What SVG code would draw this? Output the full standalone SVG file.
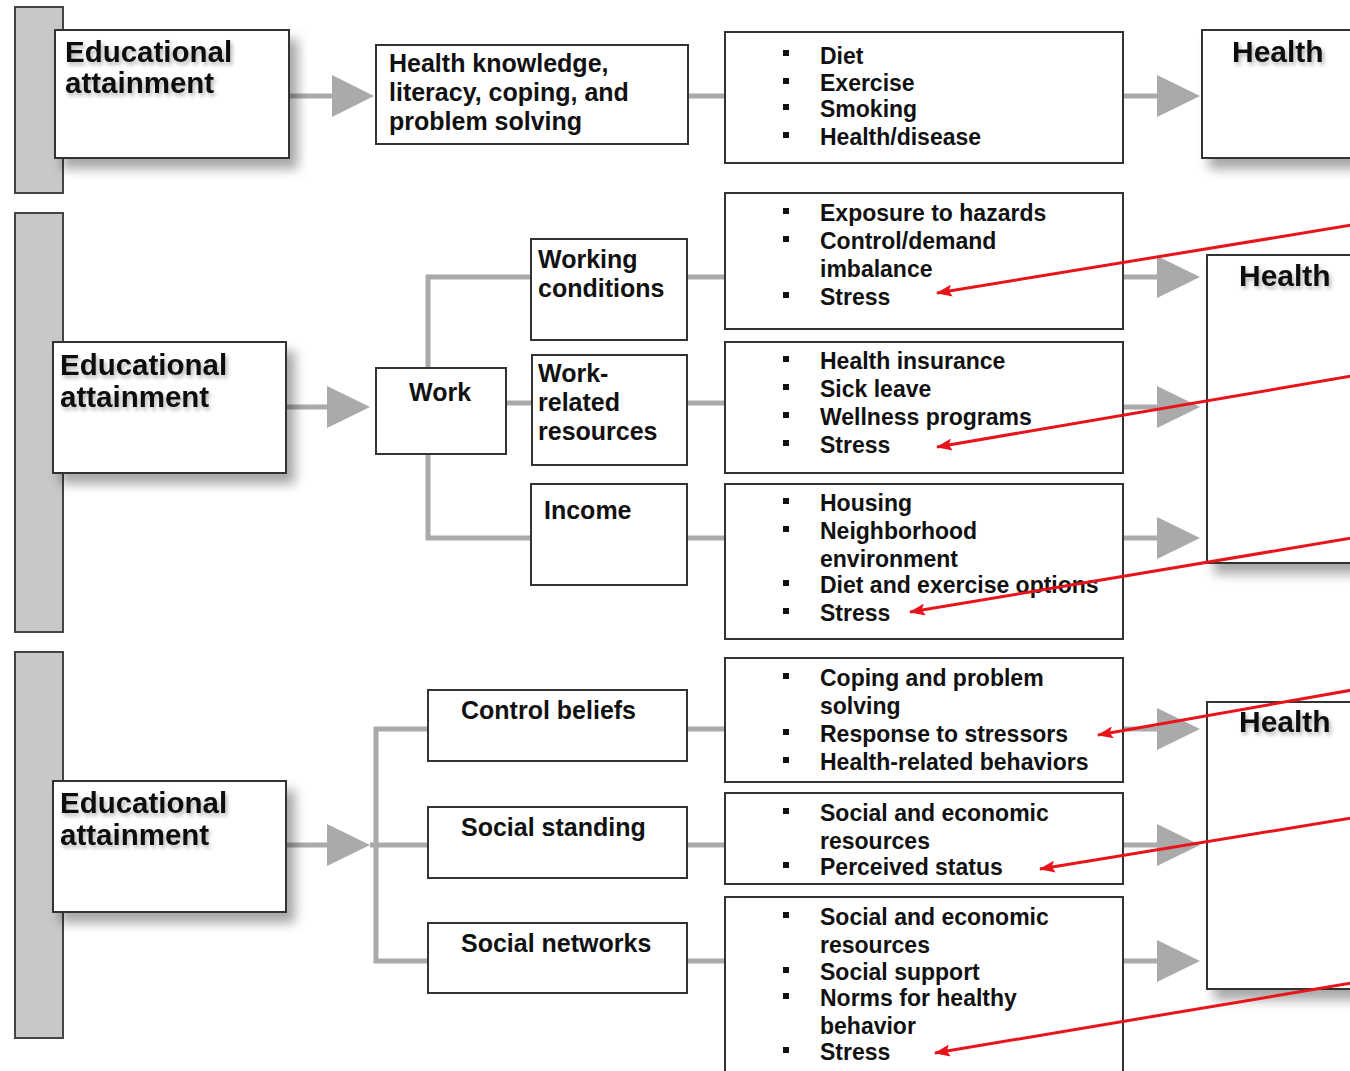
<svg xmlns="http://www.w3.org/2000/svg" width="1350" height="1071" viewBox="0 0 1350 1071">
<defs>
<filter id="sh" x="-20%" y="-20%" width="150%" height="150%">
<feGaussianBlur in="SourceAlpha" stdDeviation="6"/>
<feOffset dx="8" dy="10" result="b"/>
<feComponentTransfer><feFuncA type="linear" slope="0.35"/></feComponentTransfer>
<feMerge><feMergeNode/><feMergeNode in="SourceGraphic"/></feMerge>
</filter>
<filter id="ts" x="-10%" y="-30%" width="130%" height="180%">
<feGaussianBlur in="SourceAlpha" stdDeviation="2"/>
<feOffset dx="2" dy="3"/>
<feComponentTransfer><feFuncA type="linear" slope="0.3"/></feComponentTransfer>
<feMerge><feMergeNode/><feMergeNode in="SourceGraphic"/></feMerge>
</filter>
<marker id="ra" viewBox="0 0 16 12" refX="15" refY="6" markerWidth="16" markerHeight="12" orient="auto" markerUnits="userSpaceOnUse">
<path d="M0,0 L16,6 L0,12 L3,6 Z" fill="#e8141b"/>
</marker>
</defs>
<style>
.bar{fill:#c8c8c8;stroke:#444;stroke-width:2}
.box{fill:#fff;stroke:#333;stroke-width:2}
.t{font-family:"Liberation Sans",Arial,sans-serif;font-weight:bold;fill:#111}
.big{font-size:29.5px}
.hl{font-size:30px}
.mid{font-size:25px}
.li{font-size:23px}
.con{stroke:#aaa;stroke-width:5;fill:none}
.tri{fill:#aaa}
.bul{fill:#111}
.red{stroke:#e8141b;stroke-width:3;fill:none}
</style>
<rect width="1350" height="1071" fill="#fff"/>

<g id="connectors">
<line class="con" x1="289" y1="96" x2="334" y2="96"/>
<polygon class="tri" points="332,75 374,96 332,117"/>
<line class="con" x1="688" y1="96" x2="725" y2="96"/>
<line class="con" x1="1123" y1="96" x2="1160" y2="96"/>
<polygon class="tri" points="1157,75 1200,96 1157,117"/>
<line class="con" x1="286" y1="407" x2="330" y2="407"/>
<polygon class="tri" points="327,386 370,407 327,428"/>
<polyline class="con" points="531,277 428,277 428,538 531,538"/>
<line class="con" x1="506" y1="403" x2="532" y2="403"/>
<line class="con" x1="687" y1="277" x2="725" y2="277"/>
<line class="con" x1="687" y1="403" x2="725" y2="403"/>
<line class="con" x1="687" y1="538" x2="725" y2="538"/>
<line class="con" x1="1123" y1="277" x2="1160" y2="277"/>
<polygon class="tri" points="1157,256 1200,277 1157,298"/>
<line class="con" x1="1123" y1="407" x2="1160" y2="407"/>
<polygon class="tri" points="1157,386 1200,407 1157,428"/>
<line class="con" x1="1123" y1="538" x2="1160" y2="538"/>
<polygon class="tri" points="1157,517 1200,538 1157,559"/>
<line class="con" x1="286" y1="845" x2="330" y2="845"/>
<polygon class="tri" points="327,824 370,845 327,866"/>
<polyline class="con" points="428,729 376,729 376,961 428,961"/>
<line class="con" x1="370" y1="845" x2="428" y2="845"/>
<line class="con" x1="687" y1="729" x2="725" y2="729"/>
<line class="con" x1="687" y1="845" x2="725" y2="845"/>
<line class="con" x1="687" y1="961" x2="725" y2="961"/>
<line class="con" x1="1123" y1="729" x2="1160" y2="729"/>
<polygon class="tri" points="1157,708 1200,729 1157,750"/>
<line class="con" x1="1123" y1="845" x2="1160" y2="845"/>
<polygon class="tri" points="1157,824 1200,845 1157,866"/>
<line class="con" x1="1123" y1="961" x2="1160" y2="961"/>
<polygon class="tri" points="1157,940 1200,961 1157,982"/>
</g>

<g id="bars">
<rect class="bar" x="15" y="7" width="48" height="186"/>
<rect class="bar" x="15" y="213" width="48" height="419"/>
<rect class="bar" x="15" y="652" width="48" height="386"/>
</g>

<g id="edu1">
<rect class="box" x="55" y="30" width="234" height="128" filter="url(#sh)"/>
<text class="t big" filter="url(#ts)"><tspan x="65" y="62">Educational</tspan><tspan x="65" y="93">attainment</tspan></text>
</g>
<g id="edu2">
<rect class="box" x="53" y="342" width="233" height="131" filter="url(#sh)"/>
<text class="t big" filter="url(#ts)"><tspan x="60" y="375">Educational</tspan><tspan x="60" y="407">attainment</tspan></text>
</g>
<g id="edu3">
<rect class="box" x="53" y="781" width="233" height="131" filter="url(#sh)"/>
<text class="t big" filter="url(#ts)"><tspan x="60" y="813">Educational</tspan><tspan x="60" y="845">attainment</tspan></text>
</g>

<g id="knowledge">
<rect class="box" x="376" y="45" width="312" height="99"/>
<text class="t mid"><tspan x="389" y="72">Health knowledge,</tspan><tspan x="389" y="101">literacy, coping, and</tspan><tspan x="389" y="130">problem solving</tspan></text>
</g>

<g id="work">
<rect class="box" x="376" y="368" width="130" height="86"/>
<text class="t mid" x="409" y="401">Work</text>
</g>
<g id="working-conditions">
<rect class="box" x="531" y="239" width="156" height="101"/>
<text class="t mid"><tspan x="538" y="268">Working</tspan><tspan x="538" y="297">conditions</tspan></text>
</g>
<g id="work-related">
<rect class="box" x="532" y="355" width="155" height="110"/>
<text class="t mid"><tspan x="538" y="382">Work-</tspan><tspan x="538" y="411">related</tspan><tspan x="538" y="440">resources</tspan></text>
</g>
<g id="income">
<rect class="box" x="531" y="484" width="156" height="101"/>
<text class="t mid" x="544" y="519">Income</text>
</g>
<g id="control-beliefs">
<rect class="box" x="428" y="690" width="259" height="71"/>
<text class="t mid" x="461" y="719">Control beliefs</text>
</g>
<g id="social-standing">
<rect class="box" x="428" y="807" width="259" height="71"/>
<text class="t mid" x="461" y="836">Social standing</text>
</g>
<g id="social-networks">
<rect class="box" x="428" y="923" width="259" height="70"/>
<text class="t mid" x="461" y="952">Social networks</text>
</g>

<g id="list1">
<rect class="box" x="725" y="32" width="398" height="131"/>
<rect class="bul" x="783" y="50" width="6" height="6"/>
<rect class="bul" x="783" y="78" width="6" height="6"/>
<rect class="bul" x="783" y="104" width="6" height="6"/>
<rect class="bul" x="783" y="132" width="6" height="6"/>
<text class="t li"><tspan x="820" y="64">Diet</tspan><tspan x="820" y="91">Exercise</tspan><tspan x="820" y="117">Smoking</tspan><tspan x="820" y="145">Health/disease</tspan></text>
</g>
<g id="list2">
<rect class="box" x="725" y="193" width="398" height="136"/>
<rect class="bul" x="783" y="208" width="6" height="6"/>
<rect class="bul" x="783" y="236" width="6" height="6"/>
<rect class="bul" x="783" y="292" width="6" height="6"/>
<text class="t li"><tspan x="820" y="221">Exposure to hazards</tspan><tspan x="820" y="249">Control/demand</tspan><tspan x="820" y="277">imbalance</tspan><tspan x="820" y="305">Stress</tspan></text>
</g>
<g id="list3">
<rect class="box" x="725" y="342" width="398" height="131"/>
<rect class="bul" x="783" y="356" width="6" height="6"/>
<rect class="bul" x="783" y="384" width="6" height="6"/>
<rect class="bul" x="783" y="412" width="6" height="6"/>
<rect class="bul" x="783" y="440" width="6" height="6"/>
<text class="t li"><tspan x="820" y="369">Health insurance</tspan><tspan x="820" y="397">Sick leave</tspan><tspan x="820" y="425">Wellness programs</tspan><tspan x="820" y="453">Stress</tspan></text>
</g>
<g id="list4">
<rect class="box" x="725" y="484" width="398" height="155"/>
<rect class="bul" x="783" y="498" width="6" height="6"/>
<rect class="bul" x="783" y="526" width="6" height="6"/>
<rect class="bul" x="783" y="580" width="6" height="6"/>
<rect class="bul" x="783" y="608" width="6" height="6"/>
<text class="t li"><tspan x="820" y="511">Housing</tspan><tspan x="820" y="539">Neighborhood</tspan><tspan x="820" y="567">environment</tspan><tspan x="820" y="593">Diet and exercise options</tspan><tspan x="820" y="621">Stress</tspan></text>
</g>
<g id="list5">
<rect class="box" x="725" y="658" width="398" height="124"/>
<rect class="bul" x="783" y="673" width="6" height="6"/>
<rect class="bul" x="783" y="729" width="6" height="6"/>
<rect class="bul" x="783" y="757" width="6" height="6"/>
<text class="t li"><tspan x="820" y="686">Coping and problem</tspan><tspan x="820" y="714">solving</tspan><tspan x="820" y="742">Response to stressors</tspan><tspan x="820" y="770">Health-related behaviors</tspan></text>
</g>
<g id="list6">
<rect class="box" x="725" y="793" width="398" height="91"/>
<rect class="bul" x="783" y="808" width="6" height="6"/>
<rect class="bul" x="783" y="862" width="6" height="6"/>
<text class="t li"><tspan x="820" y="821">Social and economic</tspan><tspan x="820" y="849">resources</tspan><tspan x="820" y="875">Perceived status</tspan></text>
</g>
<g id="list7">
<rect class="box" x="725" y="897" width="398" height="180"/>
<rect class="bul" x="783" y="912" width="6" height="6"/>
<rect class="bul" x="783" y="967" width="6" height="6"/>
<rect class="bul" x="783" y="993" width="6" height="6"/>
<rect class="bul" x="783" y="1047" width="6" height="6"/>
<text class="t li"><tspan x="820" y="925">Social and economic</tspan><tspan x="820" y="953">resources</tspan><tspan x="820" y="980">Social support</tspan><tspan x="820" y="1006">Norms for healthy</tspan><tspan x="820" y="1034">behavior</tspan><tspan x="820" y="1060">Stress</tspan></text>
</g>

<g id="health1">
<rect class="box" x="1202" y="30" width="170" height="128" filter="url(#sh)"/>
<text class="t hl" x="1232" y="62" filter="url(#ts)">Health</text>
</g>
<g id="health2">
<rect class="box" x="1207" y="255" width="170" height="308" filter="url(#sh)"/>
<text class="t hl" x="1239" y="286" filter="url(#ts)">Health</text>
</g>
<g id="health3">
<rect class="box" x="1207" y="702" width="170" height="287" filter="url(#sh)"/>
<text class="t hl" x="1239" y="732" filter="url(#ts)">Health</text>
</g>

<g id="red-arrows">
<line class="red" x1="1352" y1="225" x2="937" y2="293" marker-end="url(#ra)"/>
<line class="red" x1="1352" y1="376" x2="937" y2="447" marker-end="url(#ra)"/>
<line class="red" x1="1352" y1="538" x2="910" y2="612" marker-end="url(#ra)"/>
<line class="red" x1="1352" y1="690" x2="1098" y2="735" marker-end="url(#ra)"/>
<line class="red" x1="1352" y1="818" x2="1040" y2="869" marker-end="url(#ra)"/>
<line class="red" x1="1352" y1="983" x2="935" y2="1053" marker-end="url(#ra)"/>
</g>
</svg>
